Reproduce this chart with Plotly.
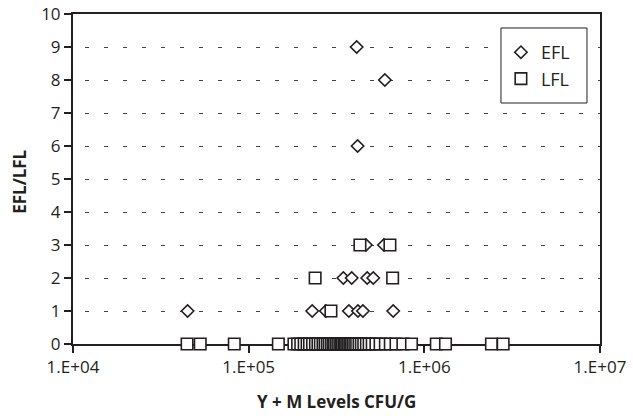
import plotly.graph_objects as go

# EFL counts (y) against yeast + mould levels (x, CFU/g)
efl_x = [412000, 596000, 417000,
         465000, 589000,
         346000, 386000, 473000, 512000,
         44900, 230000, 275000, 372000, 419000, 447000, 665000]
efl_y = [9, 8, 6,
         3, 3,
         2, 2, 2, 2,
         1, 1, 1, 1, 1, 1, 1]

# LFL counts (y) against yeast + mould levels (x, CFU/g)
lfl_x = [430000, 637000,
         239000, 660000,
         294000,
         44600, 53000, 82800, 147600,
         181000, 190000, 198000, 207000, 215000, 222000, 231000, 240000,
         248000, 256000, 265000, 272000, 280000, 287000, 295000, 302000,
         308000, 315000, 322000, 330000, 336000, 342000, 349000, 356000,
         362000, 370000, 377000, 385000, 393000, 402000, 412000, 425000,
         438000, 452000, 468000, 485000, 505000, 530000, 560000, 600000,
         640000, 690000, 755000, 845000,
         1170000, 1320000, 2410000, 2810000]
lfl_y = [3, 3,
         2, 2,
         1,
         0, 0, 0, 0,
         0, 0, 0, 0, 0, 0, 0, 0,
         0, 0, 0, 0, 0, 0, 0, 0,
         0, 0, 0, 0, 0, 0, 0, 0,
         0, 0, 0, 0, 0, 0, 0, 0,
         0, 0, 0, 0, 0, 0, 0, 0,
         0, 0, 0, 0,
         0, 0, 0, 0]

x_tick_vals = [1e4, 1e5, 1e6, 1e7]
x_tick_text = ["1.E+04", "1.E+05", "1.E+06", "1.E+07"]

INK = "#231f20"
FONT = "Open Sans"

fig = go.Figure()
fig.add_trace(go.Scatter(
    x=efl_x, y=efl_y, mode="markers", name="EFL", cliponaxis=False,
    marker=dict(symbol="diamond", size=9.5, color="white",
                line=dict(color=INK, width=1.6)),
))
fig.add_trace(go.Scatter(
    x=lfl_x, y=lfl_y, mode="markers", name="LFL", cliponaxis=False,
    marker=dict(symbol="square", size=11.5, color="white",
                line=dict(color=INK, width=1.6)),
))

fig.update_layout(
    width=633, height=416,
    margin=dict(l=73, r=33, t=14, b=72, autoexpand=False),
    paper_bgcolor="white", plot_bgcolor="white",
    font=dict(family=FONT, size=17, color=INK),
    showlegend=True,
    legend=dict(
        x=0.812, y=0.9394, xanchor="left", yanchor="top",
        bgcolor="rgba(0,0,0,0)", borderwidth=0,
        font=dict(family=FONT, size=18, color=INK),
        itemwidth=30, tracegroupgap=0,
    ),
    # framed white box behind the legend entries
    shapes=[dict(type="rect", xref="paper", yref="paper",
                 x0=0.8121, x1=0.9753, y0=0.7303, y1=0.9576,
                 fillcolor="white", line=dict(color=INK, width=1),
                 layer="above")],
    xaxis=dict(
        type="log", range=[4, 7], automargin=False,
        tickvals=x_tick_vals, ticktext=x_tick_text,
        ticks="outside", ticklen=7, tickwidth=1.5, tickcolor=INK,
        showline=True, linecolor=INK, linewidth=2, mirror=True,
        showgrid=False, zeroline=False, layer="below traces",
    ),
    yaxis=dict(
        range=[0, 10], dtick=1, tick0=0, automargin=False,
        ticks="outside", ticklen=7, tickwidth=1.5, tickcolor=INK,
        showline=True, linecolor=INK, linewidth=2, mirror=True,
        showgrid=True, gridcolor="#444444", gridwidth=1,
        griddash="0px,12px,4px,3px",
        zeroline=False, layer="below traces",
    ),
    annotations=[
        dict(text="<b>Y + M Levels CFU/G</b>", xref="paper", yref="paper",
             x=0.5, y=-0.175, xanchor="center", yanchor="middle",
             showarrow=False, font=dict(family=FONT, size=17, color=INK)),
        dict(text="<b>EFL/LFL</b>", xref="paper", yref="paper",
             x=-0.1015, y=0.49, xanchor="center", yanchor="middle",
             textangle=-90, showarrow=False,
             font=dict(family=FONT, size=17, color=INK)),
    ],
)

fig.write_html("out.html")
